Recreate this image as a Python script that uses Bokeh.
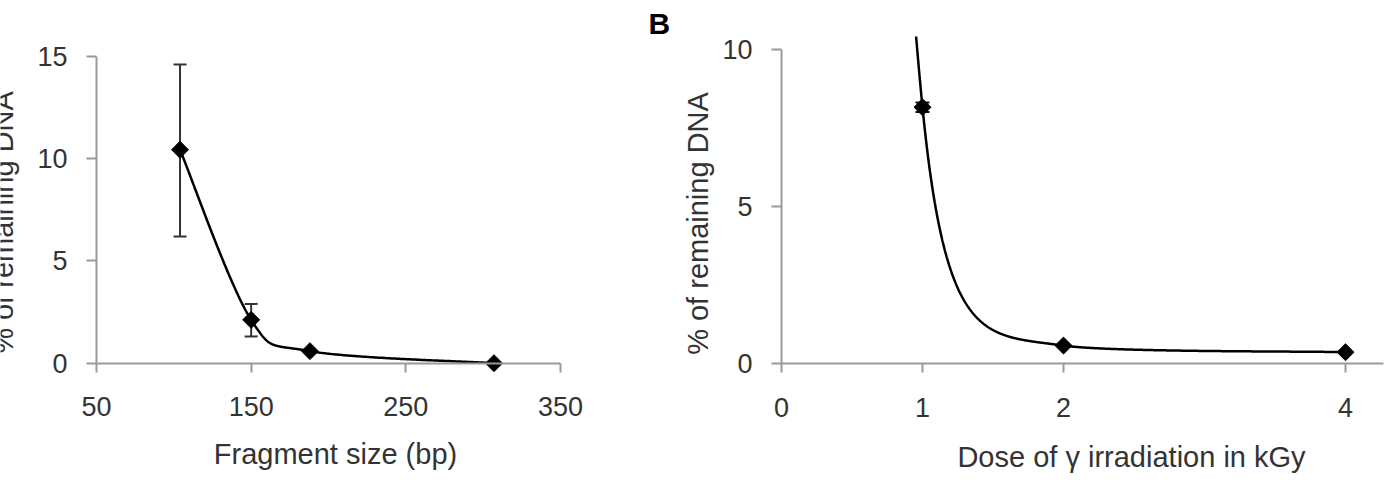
import numpy as np
from bokeh.plotting import figure
from bokeh.layouts import row
from bokeh.models import ColumnDataSource, FixedTicker, Whisker, TeeHead, Label, Range1d
from bokeh.embed import file_html
from bokeh.resources import INLINE

# ---------------- data ----------------
# Panel A: remaining DNA vs fragment size
frag_size = [104, 150, 188, 307]
frag_remaining = [10.44, 2.12, 0.59, 0.0]
frag_err_upper = [14.61, 2.90, 0.59, 0.0]
frag_err_lower = [6.20, 1.31, 0.59, 0.0]
frag_xticks = [50, 150, 250, 350]
frag_yticks = [0, 5, 10, 15]

# Panel B: remaining DNA vs gamma dose
dose = [0, 1, 2, 4]
dose_remaining = [100.0, 8.17, 0.58, 0.37]
dose_err_upper = [100.0, 8.32, 0.58, 0.37]
dose_err_lower = [100.0, 8.02, 0.58, 0.37]
dose_xticks = [0, 1, 2, 4]
dose_yticks = [0, 5, 10]

# ---------------- styles ----------------
FONT = "Liberation Sans"
AXIS_COLOR = "#9a9a9a"
TEXT_COLOR = "#333333"
TICK_SIZE = "27px"
TITLE_SIZE = "29px"
H = 480
W_A, W_B = 640, 749
TOP = 36  # frame top in both panels


def excel_smooth(xs, ys, kx, ky, n=120):
    """Bezier smoothing in pixel space: Catmull-Rom tangents with a monotonicity
    limiter, arms limited to the segment length and kept in the segment's y-range."""
    P = np.column_stack([np.asarray(xs, float) * kx, np.asarray(ys, float) * ky])
    m = len(P)

    def tangent(i):
        prv = P[i - 1] if i > 0 else P[i]
        nxt = P[i + 1] if i + 1 < m else P[i]
        a = (nxt - prv) / 6.0
        if 0 < i < m - 1 and a[0] != 0:
            dl = (P[i][1] - P[i - 1][1]) / (P[i][0] - P[i - 1][0])
            dr = (P[i + 1][1] - P[i][1]) / (P[i + 1][0] - P[i][0])
            s = a[1] / a[0]
            if dl * dr <= 0:
                s = 0.0
            else:
                lim = 6.0 * min(abs(dl), abs(dr))
                if abs(s) > lim:
                    s = np.sign(s) * lim
            L = np.linalg.norm(a)
            a = np.array([1.0, s]) / np.hypot(1.0, s) * L
        return a

    out = [P[0]]
    tt = np.linspace(0, 1, n)[1:][:, None]
    for i in range(m - 1):
        p1, p2 = P[i], P[i + 1]
        seg = np.linalg.norm(p2 - p1)
        a1, a2 = tangent(i), tangent(i + 1)
        n1, n2 = np.linalg.norm(a1), np.linalg.norm(a2)
        if n1 > seg:
            a1 = a1 * seg / n1
        if n2 > seg:
            a2 = a2 * seg / n2
        lo, hi = min(p1[1], p2[1]), max(p1[1], p2[1])
        c1 = p1 + a1
        if c1[1] < lo and a1[1] != 0:
            a1 = a1 * (p1[1] - lo) / (-a1[1])
        elif c1[1] > hi and a1[1] != 0:
            a1 = a1 * (hi - p1[1]) / a1[1]
        c2 = p2 - a2
        if c2[1] < lo and a2[1] != 0:
            a2 = a2 * (p2[1] - lo) / a2[1]
        elif c2[1] > hi and a2[1] != 0:
            a2 = a2 * (hi - p2[1]) / (-a2[1])
        c1, c2 = p1 + a1, p2 - a2
        b = ((1 - tt) ** 3) * p1 + 3 * ((1 - tt) ** 2) * tt * c1 + 3 * (1 - tt) * tt ** 2 * c2 + tt ** 3 * p2
        out.extend(b)
    out = np.array(out)
    return out[:, 0] / kx, out[:, 1] / ky


def style_axes(p, xticks, yticks, xbounds, ybounds, x_at, y_at):
    for ax in (p.xaxis[0], p.yaxis[0]):
        ax.axis_line_color = AXIS_COLOR
        ax.axis_line_width = 2
        ax.major_tick_line_color = AXIS_COLOR
        ax.major_tick_line_width = 2
        ax.minor_tick_line_color = None
        ax.major_tick_in = 0
        ax.major_label_text_font = FONT
        ax.major_label_text_font_size = TICK_SIZE
        ax.major_label_text_color = TEXT_COLOR
    p.xaxis[0].major_tick_out = 9
    p.yaxis[0].major_tick_out = 10
    p.xaxis[0].major_label_standoff = 25
    p.yaxis[0].major_label_standoff = 19
    p.xaxis[0].ticker = FixedTicker(ticks=xticks)
    p.yaxis[0].ticker = FixedTicker(ticks=yticks)
    p.xaxis[0].bounds = xbounds
    p.yaxis[0].bounds = ybounds
    p.xaxis[0].fixed_location = y_at
    p.yaxis[0].fixed_location = x_at
    p.grid.visible = False
    p.outline_line_color = None


def add_text(p, x, y, text, size=TITLE_SIZE, angle=0.0, align="center", baseline="middle",
             style="normal", color=TEXT_COLOR):
    p.add_layout(Label(x=x, y=y, text=text, angle=angle, text_align=align, text_baseline=baseline,
                       text_font=FONT, text_font_size=size, text_font_style=style, text_color=color))


# ---------------- panel A ----------------
kxA = (560.0 - 96.0) / 300.0
kyA = (362.7 - 56.0) / 15.0
xA0 = 50 - 96.0 / kxA
xA1 = xA0 + W_A / kxA
yA1 = 15 + (56.0 - TOP) / kyA
yA0 = yA1 - (H - TOP) / kyA


def xa(px):
    return xA0 + px / kxA


def ya(py):
    return yA1 - (py - TOP) / kyA


pA = figure(width=W_A, height=H, title=None, output_backend="svg", toolbar_location=None,
            x_range=Range1d(xA0, xA1), y_range=Range1d(yA0, yA1),
            min_border=0, min_border_left=0, min_border_right=0, min_border_top=TOP, min_border_bottom=0)
style_axes(pA, frag_xticks, frag_yticks, (50, 350), (0, 15), 50, 0)

errA = [i for i in range(len(frag_size)) if frag_err_upper[i] > frag_err_lower[i]]
srcA = ColumnDataSource(dict(base=[frag_size[i] for i in errA],
                             upper=[frag_err_upper[i] for i in errA],
                             lower=[frag_err_lower[i] for i in errA]))
pA.add_layout(Whisker(base="base", upper="upper", lower="lower", source=srcA,
                      line_color="#333333", line_width=2,
                      upper_head=TeeHead(size=13, line_color="#333333", line_width=2),
                      lower_head=TeeHead(size=13, line_color="#333333", line_width=2)))
cxA, cyA = excel_smooth(frag_size, frag_remaining, kxA, kyA)
pA.line(cxA, cyA, line_color="black", line_width=2.5)
pA.scatter(frag_size, frag_remaining, marker="square", angle=np.pi / 4, size=12,
           fill_color="black", line_color="black")

add_text(pA, xa(335), ya(453), "Fragment size (bp)")
add_text(pA, xa(2), ya(222), "% of remaining DNA", angle=np.pi / 2)

# ---------------- panel B ----------------
kxB = 141.0
kyB = 31.4
xB0 = -(781.0 - W_A) / kxB
xB1 = xB0 + W_B / kxB
yB1 = 10 + (49.3 - TOP) / kyB
yB0 = yB1 - (H - TOP) / kyB


def xb(px):
    return xB0 + (px - W_A) / kxB


def yb(py):
    return yB1 - (py - TOP) / kyB


pB = figure(width=W_B, height=H, title="B", output_backend="svg", toolbar_location=None,
            x_range=Range1d(xB0, xB1), y_range=Range1d(yB0, yB1),
            min_border=0, min_border_left=0, min_border_right=0, min_border_top=TOP, min_border_bottom=0)
pB.title.text_font = FONT
pB.title.text_font_size = "30px"
pB.title.text_font_style = "bold"
pB.title.text_color = "black"
pB.title.align = "left"
pB.title.offset = 648 - W_A
pB.title.standoff = -6
style_axes(pB, dose_xticks, dose_yticks, (0, 4.27), (0, 10), 0, 0)

errB = [i for i in range(len(dose)) if dose_err_upper[i] > dose_err_lower[i]]
srcB = ColumnDataSource(dict(base=[dose[i] for i in errB],
                             upper=[dose_err_upper[i] for i in errB],
                             lower=[dose_err_lower[i] for i in errB]))
pB.add_layout(Whisker(base="base", upper="upper", lower="lower", source=srcB,
                      line_color="#111111", line_width=2,
                      upper_head=TeeHead(size=14, line_color="#111111", line_width=2),
                      lower_head=TeeHead(size=14, line_color="#111111", line_width=2)))
cxB, cyB = excel_smooth(dose, dose_remaining, kxB, kyB, n=400)
pB.line(cxB, cyB, line_color="black", line_width=2.5)
pB.scatter(dose, dose_remaining, marker="square", angle=np.pi / 4, size=12,
           fill_color="black", line_color="black")

add_text(pB, xb(1131), yb(456), "Dose of \u03b3 irradiation in kGy")
add_text(pB, xb(697), yb(223), "% of remaining DNA", angle=np.pi / 2)

layout = row(pA, pB)
open("out.html", "w").write(file_html(layout, INLINE))
